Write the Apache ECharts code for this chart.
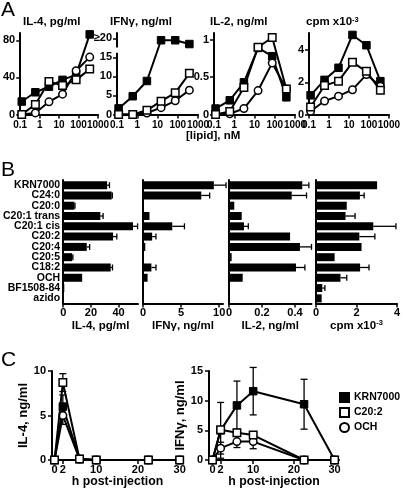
<!DOCTYPE html>
<html><head><meta charset="utf-8">
<script src="https://cdn.jsdelivr.net/npm/echarts@6/dist/echarts.min.js"></script>
<style>html,body{margin:0;padding:0;background:#fff}#c{width:403px;height:489px}</style>
</head><body><div id="c"></div>
<script>
// ---------- Panel A: dose response ----------
const doses = [0.12, 0.6, 3, 15, 75, 375];
const doseTicks = [0.1, 1, 10, 100, 1000];
const aIL4_KRN = [14, 24, 30, 37.4, 43, 86.5];
const aIL4_C202 = [0, 10.9, 35.6, 31.2, 37.4, 49];
const aIL4_OCH = [0, 1.7, 13.7, 22, 47.2, 62];
const aIFN_KRN = [1.6, 4.8, 8.8, 19.5, 19.5, 18.5];
const aIFN_C202 = [0, 0, 1.1, 3.5, 5.7, 10.8];
const aIFN_OCH = [0, 0, 0.4, 1.8, 3.6, 6.4];
const aIL2_KRN = [0.08, 0.19, 0.43, 0.89, 0.78, 0.23];
const aIL2_C202 = [0, 0.04, 0.36, 0.9, 1.03, 0.34];
const aIL2_OCH = [0, 0.01, 0.08, 0.32, 0.69, 0.34];
const aCPM_KRN = [1.19, 2.15, 2.9, 4.94, 4.3, 2.07];
const aCPM_C202 = [0.47, 1.8, 2.07, 3.24, 2.68, 1.5];
const aCPM_OCH = [0.2, 0.84, 1.14, 1.54, 2.48, 1.76];
const aIL4Ticks = [0, 40, 80];
const aIFNTicks = [0, 5, 10, 15, 20];
const aIL2Ticks = [0, 0.5, 1];
const aCPMTicks = [0, 2, 4];

// ---------- Panel B: analogues ----------
const cats = ['KRN7000','C24:0','C20:0','C20:1 trans','C20:1 cis','C20:2','C20:4','C20:5','C18:2','OCH','BF1508-84','azido'];
const bIL4 = [31.7, 35, 8.1, 26.8, 50.4, 36, 17, 6.4, 34.3, 13.7, 0.8, 0.3];
const bIL4Err = [1.7, 0.5, 0.4, 2, 3.3, 2.7, 2.1, 0.6, 1.3, 0, 0, 0];
const bIFN = [9.3, 7.65, 0.1, 0.85, 3.84, 1.2, 0.3, 0.05, 1.1, 0.6, 0, 0];
const bIFNErr = [1.6, 1.1, 0, 0, 1.6, 0.5, 0, 0, 0.6, 0, 0, 0];
const bIL2 = [0.444, 0.38, 0.032, 0.077, 0.091, 0.37, 0.43, 0.016, 0.406, 0.083, 0, 0];
const bIL2Err = [0.04, 0.09, 0, 0, 0.026, 0, 0.07, 0, 0.054, 0, 0, 0];
const bCPM = [3.02, 2.17, 1.52, 1.46, 2.83, 2.14, 2.25, 0.92, 2.18, 1.21, 0.31, 0.28];
const bCPMErr = [0, 0.21, 0, 0.47, 1.12, 0.77, 0, 0, 0.44, 0.31, 0.13, 0];
const bIL4Ticks = [0, 20, 40];
const bIFNTicks = [0, 5, 10];
const bIL2Ticks = [0, 0.2, 0.4];
const bCPMTicks = [0, 2, 4];

// ---------- Panel C: time course ----------
const times = [0, 2, 6, 10, 22.5, 30];
const timeTicks = [0, 2, 10, 20, 30];
const cIL4_KRN = [0, 6.0, 0.1, 0, 0, 0];
const cIL4_KRNErr = [0, 1.3, 0, 0, 0, 0];
const cIL4_C202 = [0, 8.7, 0.1, 0, 0, 0];
const cIL4_C202Err = [0, 1.0, 0, 0, 0, 0];
const cIL4_OCH = [0, 5.0, 0.1, 0, 0, 0];
const cIL4_OCHErr = [0, 1.0, 0, 0, 0, 0];
const cIFN_KRN = [0, 5.0, 9.2, 11.6, 9.4, 0];
const cIFN_KRNErr = [0, 4.7, 4.1, 4.0, 4.2, 0];
const cIFN_C202 = [0, 5.1, 4.6, 4.2, 0, 0];
const cIFN_C202Err = [0, 0, 0.6, 0.5, 0, 0];
const cIFN_OCH = [0, 2.0, 3.1, 3.1, 0, 0];
const cIFN_OCHErr = [0, 1.0, 1.0, 1.2, 0, 0];
const cIL4Ticks = [0, 5, 10];
const cIFNTicks = [0, 5, 10, 15];

const FONT = 'Liberation Sans, Arial, Helvetica, sans-serif';
const chart = echarts.init(document.getElementById('c'), null, {renderer: 'canvas'});

const axLine = {show: true, onZero: false, lineStyle: {color: '#000', width: 2}};
const lblBase = {color: '#000', fontSize: 11, fontWeight: 'bold', fontFamily: FONT};

function valueAxis(gi, min, max, ticks, extra) {
  return Object.assign({
    type: 'value', gridIndex: gi, min: min, max: max,
    axisLine: axLine,
    axisTick: {show: true, length: 4, lineStyle: {color: '#000', width: 1.5}, customValues: ticks},
    axisLabel: Object.assign({customValues: ticks, margin: 5, hideOverlap: false}, lblBase),
    splitLine: {show: false}
  }, extra || {});
}
function logAxis(gi) {
  return {
    type: 'log', logBase: 10, gridIndex: gi, min: 0.1, max: 1000,
    axisLine: axLine,
    axisTick: {show: true, length: 4, lineStyle: {color: '#000', width: 1.5}, customValues: doseTicks},
    axisLabel: Object.assign({}, lblBase, {fontSize: 10, margin: 6, interval: 0, hideOverlap: false,
      showMinLabel: true, showMaxLabel: true, customValues: doseTicks,
      formatter: v => String(Math.round(v * 10) / 10)}),
    splitLine: {show: false}, minorTick: {show: false}
  };
}

const grids = [
  {left: 17, top: 33, width: 81, height: 81.5},
  {left: 117, top: 33, width: 81, height: 81.5},
  {left: 214, top: 33, width: 81, height: 81.5},
  {left: 309, top: 33, width: 81, height: 81.5},
  {left: 56, top: 180, width: 82, height: 123.5},
  {left: 143, top: 180, width: 80, height: 123.5},
  {left: 229, top: 180, width: 82.5, height: 123.5},
  {left: 316, top: 180, width: 82.4, height: 123.5},
  {left: 52, top: 371, width: 131, height: 89},
  {left: 209, top: 371, width: 130, height: 89}
];

const supRich = {s: {fontSize: 7.5, fontWeight: 'bold', fontFamily: FONT, color: '#000', verticalAlign: 'top', padding: [0, 0, 4, 0]}};
const bNameStyle = {color: '#000', fontSize: 11.5, fontWeight: 'bold', fontFamily: FONT, rich: supRich};
const cNameStyle = {color: '#000', fontSize: 12.3, fontWeight: 'bold', fontFamily: FONT};

const xAxes = [
  logAxis(0), logAxis(1), logAxis(2), logAxis(3),
  valueAxis(4, 0, 54, bIL4Ticks, {name: 'IL-4, pg/ml', nameLocation: 'middle', nameGap: 15, nameTextStyle: bNameStyle}),
  valueAxis(5, 0, 10.5, bIFNTicks, {name: 'IFNγ, ng/ml', nameLocation: 'middle', nameGap: 15, nameTextStyle: bNameStyle}),
  valueAxis(6, 0, 0.5, bIL2Ticks, {name: 'IL-2, ng/ml', nameLocation: 'middle', nameGap: 15, nameTextStyle: bNameStyle}),
  valueAxis(7, 0, 4, bCPMTicks, {name: 'cpm x10{s|-3}', nameLocation: 'middle', nameGap: 15, nameTextStyle: bNameStyle}),
  valueAxis(8, -0.6, 30.8, timeTicks, {name: 'h post-injection', nameLocation: 'middle', nameGap: 16, nameTextStyle: cNameStyle}),
  valueAxis(9, -0.86, 31.08, timeTicks, {name: 'h post-injection', nameLocation: 'middle', nameGap: 16, nameTextStyle: cNameStyle})
];
for (let i = 4; i < 10; i++) xAxes[i].axisLabel.margin = 4;

function catAxis(gi, showLabels) {
  return {
    type: 'category', gridIndex: gi, data: cats, inverse: true,
    axisLine: axLine, axisTick: {show: false},
    axisLabel: {show: showLabels, color: '#000', fontSize: 10.5, fontWeight: 'bold', fontFamily: FONT, margin: 3, interval: 0},
    splitLine: {show: false}
  };
}

const yAxes = [
  valueAxis(0, 0, 88, aIL4Ticks),
  valueAxis(1, 0, 21.4, aIFNTicks, {}),
  valueAxis(2, 0, 1.09, aIL2Ticks),
  valueAxis(3, 0, 5.06, aCPMTicks),
  catAxis(4, true), catAxis(5, false), catAxis(6, false), catAxis(7, false),
  valueAxis(8, 0, 10, cIL4Ticks, {name: 'IL-4, ng/ml', nameLocation: 'middle', nameGap: 13, nameTextStyle: {color: '#000', fontSize: 13, fontWeight: 'bold', fontFamily: FONT}}),
  valueAxis(9, 0, 15, cIFNTicks, {name: 'IFNγ, ng/ml', nameLocation: 'middle', nameGap: 16, nameTextStyle: {color: '#000', fontSize: 13, fontWeight: 'bold', fontFamily: FONT}})
];
yAxes[1].axisLabel.formatter = v => (v === 20 ? '≥20' : String(v));
yAxes[8].axisLabel.margin = 6;
yAxes[9].axisLabel.margin = 6;

const STY = {
  'KRN7000': {symbol: 'rect', itemStyle: {color: '#000', borderColor: '#000', borderWidth: 1}},
  'C20:2': {symbol: 'rect', itemStyle: {color: '#fff', borderColor: '#000', borderWidth: 1.5}},
  'OCH': {symbol: 'circle', itemStyle: {color: '#fff', borderColor: '#000', borderWidth: 1.5}}
};
function line(name, idx, xs, ys, z) {
  return {
    type: 'line', name: name, xAxisIndex: idx, yAxisIndex: idx,
    data: xs.map((x, i) => [x, ys[i]]),
    symbol: STY[name].symbol, symbolSize: 7.5, showAllSymbol: true,
    lineStyle: {color: '#000', width: 2}, itemStyle: STY[name].itemStyle,
    z: z, animation: false, emphasis: {disabled: true}
  };
}
function hErr(idx, vals, errs) {
  return {
    type: 'custom', xAxisIndex: idx, yAxisIndex: idx, z: 3, animation: false,
    data: vals.map((v, i) => [v, errs[i], i]),
    encode: {x: 0, y: 2},
    renderItem: function (params, api) {
      const v = api.value(0), e = api.value(1), i = api.value(2);
      if (!(e > 0)) return null;
      const p0 = api.coord([v, i]), p1 = api.coord([v + e, i]);
      const st = {stroke: '#000', lineWidth: 1.3};
      return {type: 'group', children: [
        {type: 'line', shape: {x1: p0[0], y1: p0[1], x2: p1[0], y2: p1[1]}, style: st},
        {type: 'line', shape: {x1: p1[0], y1: p1[1] - 3, x2: p1[0], y2: p1[1] + 3}, style: st}
      ]};
    }
  };
}
function vErr(idx, xs, vals, errs) {
  return {
    type: 'custom', xAxisIndex: idx, yAxisIndex: idx, z: 1, animation: false,
    data: xs.map((x, i) => [x, vals[i], errs[i]]),
    encode: {x: 0, y: 1},
    renderItem: function (params, api) {
      const x = api.value(0), v = api.value(1), e = api.value(2);
      if (!(e > 0)) return null;
      const pt = api.coord([x, v + e]), pb = api.coord([x, v - e]);
      const st = {stroke: '#000', lineWidth: 1.3};
      return {type: 'group', children: [
        {type: 'line', shape: {x1: pt[0], y1: pt[1], x2: pb[0], y2: pb[1]}, style: st},
        {type: 'line', shape: {x1: pt[0] - 3.5, y1: pt[1], x2: pt[0] + 3.5, y2: pt[1]}, style: st},
        {type: 'line', shape: {x1: pb[0] - 3.5, y1: pb[1], x2: pb[0] + 3.5, y2: pb[1]}, style: st}
      ]};
    }
  };
}
function bars(idx, vals) {
  return {type: 'bar', xAxisIndex: idx, yAxisIndex: idx, data: vals, barWidth: 8,
    itemStyle: {color: '#000'}, z: 2, animation: false, emphasis: {disabled: true}};
}
// axis break marker on the IFN-γ axis (between 15 and ≥20)
const ifnBreak = {
  type: 'custom', xAxisIndex: 1, yAxisIndex: 1, z: 20, animation: false, silent: true,
  data: [[0.1, 16.2, 17.6]], encode: {x: 0, y: 1},
  renderItem: function (params, api) {
    const p0 = api.coord([api.value(0), api.value(1)]);
    const p1 = api.coord([api.value(0), api.value(2)]);
    return {type: 'rect', shape: {x: p0[0] - 4, y: p1[1], width: 8, height: p0[1] - p1[1]}, style: {fill: '#fff'}};
  }
};

const series = [
  line('KRN7000', 0, doses, aIL4_KRN, 4), line('OCH', 0, doses, aIL4_OCH, 5), line('C20:2', 0, doses, aIL4_C202, 6),
  line('KRN7000', 1, doses, aIFN_KRN, 4), line('OCH', 1, doses, aIFN_OCH, 5), line('C20:2', 1, doses, aIFN_C202, 6),
  line('KRN7000', 2, doses, aIL2_KRN, 4), line('OCH', 2, doses, aIL2_OCH, 5), line('C20:2', 2, doses, aIL2_C202, 6),
  line('KRN7000', 3, doses, aCPM_KRN, 4), line('OCH', 3, doses, aCPM_OCH, 5), line('C20:2', 3, doses, aCPM_C202, 6),
  ifnBreak,
  bars(4, bIL4), hErr(4, bIL4, bIL4Err),
  bars(5, bIFN), hErr(5, bIFN, bIFNErr),
  bars(6, bIL2), hErr(6, bIL2, bIL2Err),
  bars(7, bCPM), hErr(7, bCPM, bCPMErr),
  vErr(8, times, cIL4_KRN, cIL4_KRNErr), vErr(8, times, cIL4_OCH, cIL4_OCHErr), vErr(8, times, cIL4_C202, cIL4_C202Err),
  line('KRN7000', 8, times, cIL4_KRN, 4), line('OCH', 8, times, cIL4_OCH, 5), line('C20:2', 8, times, cIL4_C202, 6),
  vErr(9, times, cIFN_KRN, cIFN_KRNErr), vErr(9, times, cIFN_OCH, cIFN_OCHErr), vErr(9, times, cIFN_C202, cIFN_C202Err),
  line('KRN7000', 9, times, cIFN_KRN, 4), line('OCH', 9, times, cIFN_OCH, 5), line('C20:2', 9, times, cIFN_C202, 6)
];

const tStyle = {color: '#000', fontSize: 11.5, fontWeight: 'bold', fontFamily: FONT, rich: supRich};
const panelLetter = {color: '#000', fontSize: 21, fontWeight: 'normal', fontFamily: FONT};
const option = {
  backgroundColor: '#fff',
  animation: false,
  textStyle: {fontFamily: FONT, color: '#000'},
  title: [
    {text: 'A', left: 1, top: 0, padding: 0, textStyle: panelLetter},
    {text: 'B', left: 1, top: 160, padding: 0, textStyle: panelLetter},
    {text: 'C', left: 1, top: 350, padding: 0, textStyle: panelLetter},
    {text: 'IL-4, pg/ml', left: 23, top: 16, padding: 0, textStyle: tStyle},
    {text: 'IFNγ, ng/ml', left: 110, top: 16, padding: 0, textStyle: tStyle},
    {text: 'IL-2, ng/ml', left: 210, top: 16, padding: 0, textStyle: tStyle},
    {text: 'cpm x10{s|-3}', left: 306, top: 16, padding: 0, textStyle: tStyle},
    {text: '[lipid], nM', left: 186, top: 130, padding: 0, textStyle: tStyle}
  ],
  legend: {
    orient: 'vertical', left: 334, top: 387, itemWidth: 9, itemHeight: 9, itemGap: 4, selectedMode: false,
    textStyle: {color: '#000', fontSize: 10.5, fontWeight: 'bold', fontFamily: FONT},
    data: [{name: 'KRN7000', icon: 'rect'}, {name: 'C20:2', icon: 'rect'}, {name: 'OCH', icon: 'circle'}]
  },
  grid: grids,
  xAxis: xAxes,
  yAxis: yAxes,
  series: series
};
chart.setOption(option);
</script></body></html>
